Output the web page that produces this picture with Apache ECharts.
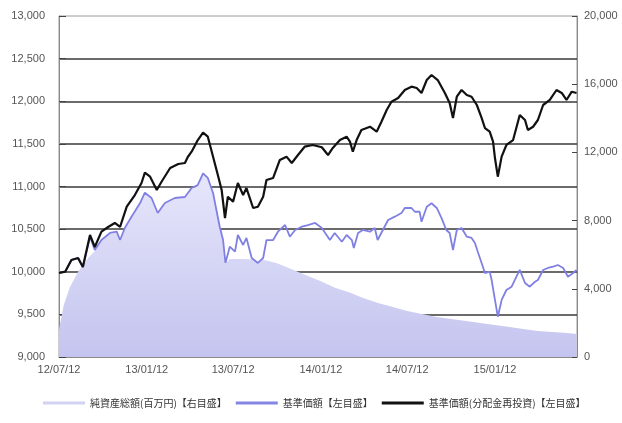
<!DOCTYPE html>
<html>
<head>
<meta charset="utf-8">
<script src="https://cdn.jsdelivr.net/npm/echarts@6/dist/echarts.min.js"></script>
<style>
html,body{margin:0;padding:0;background:#fff;}
#chart{width:622px;height:423px;}
</style>
</head>
<body>
<div id="chart"></div>
<script>
// ---- Data ----
const seriesNames = ['純資産総額(百万円)【右目盛】', '基準価額【左目盛】', '基準価額(分配金再投資)【左目盛】'];
const xTickDates = ['2012-07-12','2013-01-12','2013-07-12','2014-01-12','2014-07-12','2015-01-12'];
const xMin = '2012-07-12';
const xMax = '2015-07-03';
const leftTicks = [9000, 9500, 10000, 10500, 11000, 11500, 12000, 12500, 13000];
const rightTicks = [0, 4000, 8000, 12000, 16000, 20000];

// 純資産総額 (right axis)
const assetsDates = ['2012-07-12','2012-07-22','2012-08-04','2012-08-21','2012-09-11','2012-09-25','2012-10-09','2012-10-27','2012-11-10','2012-11-17','2012-11-27','2012-12-11','2012-12-29','2013-01-08','2013-01-22','2013-02-04','2013-02-19','2013-03-12','2013-04-02','2013-04-16','2013-04-29','2013-05-10','2013-05-20','2013-05-31','2013-06-07','2013-06-14','2013-06-21','2013-06-26','2013-07-05','2013-07-22','2013-08-20','2013-09-02','2013-09-13','2013-10-12','2013-11-12','2013-12-12','2014-01-12','2014-02-12','2014-03-12','2014-04-12','2014-05-12','2014-06-12','2014-07-12','2014-08-12','2014-09-12','2014-10-12','2014-11-12','2014-12-12','2015-01-12','2015-02-12','2015-03-12','2015-04-12','2015-05-12','2015-06-12','2015-07-02'];
const assetsValues = [1600,3050,4100,5000,5800,6215,6800,7215,7290,6800,7505,8170,8970,9575,9265,8385,8970,9265,9325,9850,10030,10715,10440,9560,8560,7580,6800,5455,5750,5750,5740,5500,5700,5500,5150,4800,4450,4050,3800,3450,3170,2930,2700,2520,2350,2230,2110,1990,1880,1760,1640,1530,1470,1410,1350];

// 基準価額 (left axis)
const navDates = ['2012-07-12','2012-07-25','2012-08-07','2012-08-21','2012-08-31','2012-09-15','2012-09-25','2012-10-09','2012-10-27','2012-11-10','2012-11-17','2012-11-27','2012-12-11','2012-12-29','2013-01-08','2013-01-22','2013-02-04','2013-02-19','2013-03-12','2013-04-02','2013-04-16','2013-04-29','2013-05-10','2013-05-20','2013-05-31','2013-06-07','2013-06-14','2013-06-21','2013-06-26','2013-07-05','2013-07-16','2013-07-22','2013-08-02','2013-08-09','2013-08-20','2013-09-02','2013-09-13','2013-09-20','2013-10-04','2013-10-14','2013-10-29','2013-11-08','2013-11-19','2013-12-03','2013-12-16','2013-12-31','2014-01-14','2014-01-31','2014-02-10','2014-02-25','2014-03-07','2014-03-18','2014-03-22','2014-03-31','2014-04-10','2014-04-25','2014-05-05','2014-05-11','2014-05-22','2014-06-02','2014-06-16','2014-06-30','2014-07-07','2014-07-21','2014-07-28','2014-08-07','2014-08-11','2014-08-22','2014-09-01','2014-09-12','2014-09-22','2014-10-02','2014-10-09','2014-10-16','2014-10-24','2014-11-03','2014-11-14','2014-11-24','2014-12-01','2014-12-07','2014-12-15','2014-12-22','2015-01-01','2015-01-05','2015-01-12','2015-01-18','2015-01-26','2015-02-05','2015-02-16','2015-02-26','2015-03-05','2015-03-16','2015-03-26','2015-04-06','2015-04-12','2015-04-23','2015-05-03','2015-05-14','2015-05-24','2015-06-04','2015-06-14','2015-06-25','2015-07-02'];
const navValues = [9985,10001,10138,10161,10056,10410,10255,10372,10455,10470,10372,10513,10646,10806,10927,10865,10689,10806,10865,10877,10982,11018,11155,11100,10924,10724,10528,10372,10103,10294,10235,10431,10314,10396,10161,10103,10161,10372,10372,10470,10548,10411,10490,10528,10548,10572,10513,10372,10455,10352,10431,10372,10279,10455,10490,10470,10513,10372,10490,10607,10646,10689,10748,10748,10704,10704,10587,10763,10803,10748,10630,10490,10455,10255,10490,10513,10411,10396,10337,10235,10103,9985,10001,9903,9669,9473,9669,9786,9825,9942,10021,9868,9825,9883,9903,10021,10044,10059,10079,10044,9942,9985,10021];

// 基準価額(分配金再投資) (left axis)
const reinvDates = ['2012-07-12','2012-07-25','2012-08-07','2012-08-21','2012-08-31','2012-09-15','2012-09-25','2012-10-09','2012-10-23','2012-11-06','2012-11-17','2012-12-01','2012-12-18','2013-01-01','2013-01-08','2013-01-19','2013-02-02','2013-02-12','2013-03-02','2013-03-19','2013-04-02','2013-04-08','2013-04-16','2013-04-29','2013-05-10','2013-05-20','2013-05-31','2013-06-10','2013-06-18','2013-06-25','2013-07-01','2013-07-12','2013-07-22','2013-08-02','2013-08-09','2013-08-23','2013-09-02','2013-09-13','2013-09-20','2013-10-04','2013-10-18','2013-11-01','2013-11-12','2013-11-25','2013-12-09','2013-12-26','2014-01-14','2014-01-27','2014-02-06','2014-02-21','2014-03-07','2014-03-14','2014-03-20','2014-03-28','2014-04-07','2014-04-25','2014-05-09','2014-05-19','2014-05-30','2014-06-09','2014-06-23','2014-07-07','2014-07-21','2014-08-01','2014-08-11','2014-08-22','2014-09-01','2014-09-14','2014-09-29','2014-10-09','2014-10-16','2014-10-24','2014-11-03','2014-11-14','2014-11-24','2014-12-05','2014-12-15','2014-12-22','2015-01-01','2015-01-08','2015-01-12','2015-01-18','2015-01-26','2015-02-05','2015-02-19','2015-03-05','2015-03-16','2015-03-22','2015-04-02','2015-04-12','2015-04-23','2015-05-07','2015-05-21','2015-06-01','2015-06-11','2015-06-22','2015-07-02'];
const reinvValues = [9985,10001,10138,10161,10056,10431,10290,10470,10525,10572,10525,10763,10900,11041,11162,11115,10959,11056,11217,11264,11276,11346,11408,11545,11631,11584,11350,11135,10959,10630,10880,10822,11041,10900,10982,10748,10763,10880,11076,11100,11311,11350,11276,11369,11467,11487,11460,11369,11452,11545,11584,11526,11408,11545,11663,11701,11643,11760,11897,11995,12038,12132,12171,12155,12097,12249,12308,12249,12097,11979,11804,12053,12132,12073,12053,11956,11804,11686,11643,11526,11334,11115,11350,11487,11545,11839,11780,11663,11701,11780,11956,12015,12132,12097,12015,12112,12097];

// ---- Helpers ----
function toTs(s) { const p = s.split('-').map(Number); return new Date(p[0], p[1] - 1, p[2]).getTime(); }
function pad(n) { return (n < 10 ? '0' : '') + n; }
function fmtDate(v) { const d = new Date(v); return pad(d.getFullYear() % 100) + '/' + pad(d.getMonth() + 1) + '/' + pad(d.getDate()); }
function pairs(ds, vs) { return ds.map((d, i) => [toTs(d), vs[i]]); }
function fmtNum(v) { return String(v).replace(/\B(?=(\d{3})+(?!\d))/g, ','); }

const tickTs = xTickDates.map(toTs);
const labelFont = 'Liberation Sans, Arial, sans-serif';

const chart = echarts.init(document.getElementById('chart'), null, { renderer: 'canvas' });
chart.setOption({
  animation: false,
  backgroundColor: '#fff',
  grid: { left: 59, right: 45, top: 16, bottom: 66, show: true, borderColor: '#9a9a9a', borderWidth: 1, backgroundColor: 'transparent' },
  legend: {
    bottom: 10, left: 38, itemWidth: 42, itemHeight: 3, itemGap: 9, icon: 'rect',
    textStyle: { fontSize: 10, color: '#333', fontFamily: 'Noto Sans CJK JP, sans-serif' },
    data: [
      { name: seriesNames[0], itemStyle: { color: '#d2d2f2' } },
      { name: seriesNames[1], itemStyle: { color: '#8585e4' } },
      { name: seriesNames[2], itemStyle: { color: '#111' } }
    ]
  },
  xAxis: {
    type: 'value', min: toTs(xMin), max: toTs(xMax),
    axisLine: { lineStyle: { color: '#8a8a8a' } },
    axisTick: { show: true, inside: true, length: 3, customValues: tickTs, lineStyle: { color: '#555' } },
    axisLabel: { customValues: tickTs, formatter: fmtDate, fontSize: 11, color: '#555', margin: 7, fontFamily: labelFont, showMinLabel: true },
    splitLine: { show: false }
  },
  yAxis: [
    {
      type: 'value', min: leftTicks[0], max: leftTicks[leftTicks.length - 1], interval: leftTicks[1] - leftTicks[0], position: 'left',
      axisLine: { show: true, lineStyle: { color: '#8a8a8a' } },
      axisTick: { show: true, inside: true, length: 7, lineStyle: { color: '#444' } },
      axisLabel: { formatter: fmtNum, fontSize: 11, color: '#555', margin: 14, fontFamily: labelFont },
      splitLine: { show: true, showMinLine: false, showMaxLine: false, lineStyle: { color: '#3a3a3a', width: 1.5 } }
    },
    {
      type: 'value', min: rightTicks[0], max: rightTicks[rightTicks.length - 1], interval: rightTicks[1] - rightTicks[0], position: 'right',
      axisLine: { show: true, lineStyle: { color: '#8a8a8a' } },
      axisTick: { show: true, inside: true, length: 5, lineStyle: { color: '#444' } },
      axisLabel: { formatter: fmtNum, fontSize: 11, color: '#555', margin: 7, fontFamily: labelFont },
      splitLine: { show: false }
    }
  ],
  series: [
    {
      name: seriesNames[0], type: 'line', yAxisIndex: 1, data: pairs(assetsDates, assetsValues),
      showSymbol: false, symbol: 'none', lineStyle: { width: 0 },
      itemStyle: { color: '#d2d2f2' },
      areaStyle: { opacity: 1, color: new echarts.graphic.LinearGradient(0, 0, 0, 1, [{ offset: 0, color: '#e6e6fb' }, { offset: 1, color: '#c4c4ef' }]) },
      z: 1
    },
    {
      name: seriesNames[1], type: 'line', yAxisIndex: 0, data: pairs(navDates, navValues),
      showSymbol: false, symbol: 'none', lineStyle: { width: 1.8, color: '#8080e4' }, itemStyle: { color: '#8080e4' }, z: 2
    },
    {
      name: seriesNames[2], type: 'line', yAxisIndex: 0, data: pairs(reinvDates, reinvValues),
      showSymbol: false, symbol: 'none', lineStyle: { width: 2.2, color: '#111' }, itemStyle: { color: '#111' }, z: 3
    }
  ]
});
</script>
</body>
</html>
